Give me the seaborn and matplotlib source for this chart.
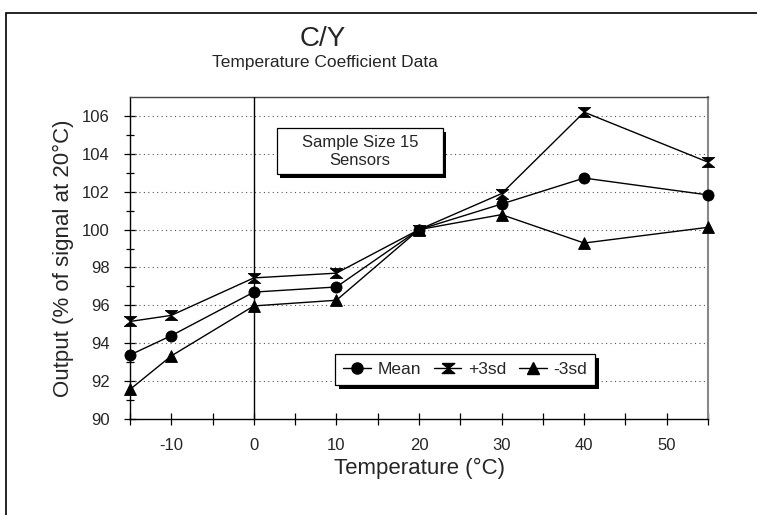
import numpy as np
import pandas as pd
import seaborn as sns
import matplotlib
matplotlib.use("Agg")
import matplotlib.pyplot as plt
from matplotlib.patches import Rectangle
from matplotlib.path import Path
from matplotlib.lines import Line2D
import matplotlib.patheffects as pe

# ---- data ----
temperature = [-15, -10, 0, 10, 20, 30, 40, 55]
mean_vals = [93.38, 94.40, 96.70, 96.97, 100.0, 101.35, 102.72, 101.83]
plus3sd_vals = [95.15, 95.47, 97.45, 97.70, 100.0, 101.90, 106.20, 103.56]
minus3sd_vals = [91.56, 93.33, 95.97, 96.27, 100.0, 100.79, 99.29, 100.12]
series_names = ["Mean", "+3sd", "-3sd"]
x_major_ticks = [-10, 0, 10, 20, 30, 40, 50]
y_major_ticks = [90, 92, 94, 96, 98, 100, 102, 104, 106]

df = pd.concat([
    pd.DataFrame({"T": temperature, "val": mean_vals, "series": "Mean"}),
    pd.DataFrame({"T": temperature, "val": plus3sd_vals, "series": "+3sd"}),
    pd.DataFrame({"T": temperature, "val": minus3sd_vals, "series": "-3sd"}),
])

sns.set_theme(style="white")
FONT = ["Liberation Sans Narrow", "Liberation Sans", "DejaVu Sans"]
plt.rcParams["font.family"] = FONT

hourglass = Path([(-1.0, 0.8), (1.0, 0.8), (-1.0, -0.8), (1.0, -0.8), (-1.0, 0.8)])

fig = plt.figure(figsize=(7.57, 5.15), dpi=100)
ax = fig.add_axes([130/757, 1-419/515, (708-130)/757, (419-97)/515])

markers = {"Mean": "o", "+3sd": hourglass, "-3sd": "^"}
sizes = {"Mean": 8, "+3sd": 9, "-3sd": 9}
for name in series_names:
    sub = df[df.series == name]
    sns.lineplot(data=sub, x="T", y="val", ax=ax, color="black", lw=1.0,
                 marker=markers[name], markersize=sizes[name],
                 markeredgecolor="black", markerfacecolor="black",
                 markeredgewidth=0.6, legend=False, zorder=5, clip_on=False)

ax.set_xlim(-15, 55)
ax.set_ylim(90, 107)
ax.axvline(0, color="black", lw=1.0, zorder=3)

ax.set_xticks(x_major_ticks)
ax.set_xticks(np.arange(-15, 56, 5), minor=True)
ax.set_yticks(y_major_ticks)
ax.set_yticks(np.arange(90, 107, 1), minor=True)
ax.set_xticklabels([str(v) for v in x_major_ticks])
ax.set_yticklabels([str(v) for v in y_major_ticks])
ax.tick_params(axis="x", which="both", direction="inout", length=9, width=0.9,
               color="black", labelsize=12, pad=9, bottom=True)
ax.tick_params(axis="y", which="major", direction="inout", length=9, width=0.9,
               color="black", labelsize=12, pad=10, left=True)
ax.tick_params(axis="y", which="minor", direction="inout", length=6, width=0.9,
               color="black", left=True)

for y in y_major_ticks[1:]:
    ax.axhline(y, color="#555555", lw=0.8, ls=(0, (1, 3)), zorder=1)

for side in ["left", "bottom"]:
    ax.spines[side].set_color("black")
    ax.spines[side].set_linewidth(1.0)
ax.spines["top"].set_color("#444444")
ax.spines["top"].set_linewidth(1.0)
ax.spines["right"].set_color("#888888")
ax.spines["right"].set_linewidth(1.5)

ax.set_xlabel("Temperature (°C)", fontsize=16, labelpad=4)
ax.set_ylabel("Output (% of signal at 20°C)", fontsize=16, labelpad=6)

# annotation box
box = Rectangle((0.254, 0.760), 0.2875, 0.143, transform=ax.transAxes,
                fc="white", ec="black", lw=0.9, zorder=6)
box.set_path_effects([
    pe.SimplePatchShadow(offset=(2.5, -2.5), shadow_rgbFace="black", alpha=1.0),
    pe.Normal()])
ax.add_patch(box)
ax.text(0.3978, 0.8315, "Sample Size 15\nSensors", transform=ax.transAxes,
        ha="center", va="center", fontsize=12, linespacing=1.25, zorder=7)

# legend
handles = [Line2D([], [], color="black", lw=1.0, marker=markers[n], markersize=sizes[n],
                  markerfacecolor="black", markeredgecolor="black") for n in series_names]
leg = ax.legend(handles, series_names, loc="center", bbox_to_anchor=(0.58, 0.153),
                ncol=3, frameon=True, fancybox=False, fontsize=12.5, framealpha=1.0,
                handlelength=1.6, handletextpad=0.4, columnspacing=0.7,
                borderpad=0.45, edgecolor="black", facecolor="white")
leg.get_frame().set_linewidth(0.9)
leg.get_frame().set_path_effects([
    pe.SimplePatchShadow(offset=(2.5, -2.5), shadow_rgbFace="black", alpha=1.0),
    pe.Normal()])
leg.set_zorder(7)

# titles
fig.text(323/757, 1-39/515, "C/Y", ha="center", va="center", fontsize=20)
fig.text(325/757, 1-62/515, "Temperature Coefficient Data", ha="center", va="center", fontsize=12.5)

# outer frame
fig.add_artist(Rectangle((6/757, -0.1), 1.2, 1-13/515+0.1, transform=fig.transFigure,
                         fill=False, ec="black", lw=1.2))

fig.savefig("out.png", dpi=100)
